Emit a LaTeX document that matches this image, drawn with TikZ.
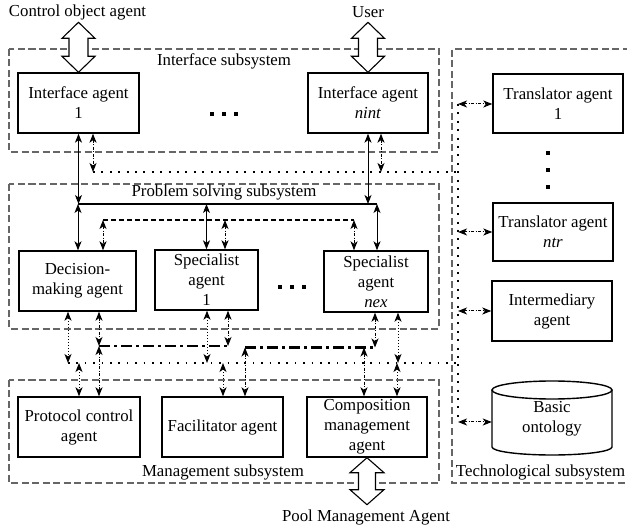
\documentclass[tikz,border=0pt]{standalone}
\usepackage{fontspec}
\setmainfont{Liberation Serif}
\usetikzlibrary{arrows.meta,calc}
\newcommand\fsz{\fontsize{16.8}{20}\selectfont}
\begin{document}
\begin{tikzpicture}[x=1pt,y=-1pt,
 agent/.style={draw,line width=1.4pt,minimum height=60pt,align=center,inner sep=0pt,font=\fsz},
 lbl/.style={inner sep=0pt,font=\fsz},
 subsys/.style={draw=black!60,line width=1.1pt,dash pattern=on 7pt off 3.5pt},
 arr/.style={line width=1pt,{Stealth[length=9pt,width=7pt,inset=2.5pt]}-{Stealth[length=9pt,width=7pt,inset=2.5pt]}},
 solidarr/.style={arr},
 ddarr/.style={arr,dash pattern=on 3pt off 1.5pt on 1pt off 1.5pt},
 dotarr/.style={arr,dash pattern=on 1pt off 2pt},
 solidbus/.style={line width=2.8pt},
 dashbus/.style={line width=2.8pt,dash pattern=on 5pt off 3pt},
 ddbus/.style={line width=2.8pt,dash pattern=on 11pt off 4pt on 3pt off 4pt},
 dotline/.style={line width=2pt,dash pattern=on 2pt off 6.4pt},
 hollow/.style={draw,line width=1.1pt,fill=white,line join=miter},
 sq/.style={fill=black},
]
\useasboundingbox (0,0) rectangle (627,529);

% subsystems
\draw[subsys] (9,49) rectangle (439,152);
\draw[subsys] (9,184) rectangle (439,329);
\draw[subsys] (9,380) rectangle (439,483);
\draw[subsys] (640,49) -- (452,49) -- (452,483) -- (640,483);

\node[lbl] (lint) at (224,61) {Interface subsystem};
\node[lbl] (lps) at (224,192) {Problem solving subsystem};
\node[lbl] (lman) at (223,472) {Management subsystem};
\node[lbl] (ltech) at (540.5,472) {Technological subsystem};
\node[lbl] (lco) at (77.5,12) {Control object agent};
\node[lbl] (luser) at (368,12) {User};
\node[lbl] (lpool) at (366,517) {Pool Management Agent};

% agents
\node[agent,minimum width=121pt] (i1) at (78.5,103) {Interface agent\\1};
\node[agent,minimum width=120pt] (inint) at (368,103) {Interface agent\\\textit{nint}};
\node[agent,minimum width=130pt,minimum height=59pt] (t1) at (558,103.5) {Translator agent\\1};
\node[agent,minimum width=120pt,minimum height=58pt] (tntr) at (553,232) {Translator agent\\\textit{ntr}};
\node[agent,minimum width=120pt] (im) at (552,311) {Intermediary\\agent};
\node[agent,minimum width=117pt] (dm) at (77.5,281) {Decision-\\making agent};
\node[agent,minimum width=103pt] (s1) at (206.5,280) {Specialist\\agent\\1};
\node[agent,minimum width=104pt,minimum height=61pt] (snex) at (376,281.5) {Specialist\\agent\\\textit{nex}};
\node[agent,minimum width=122pt] (pc) at (79,427) {Protocol control\\agent};
\node[agent,minimum width=121pt] (fa) at (222.5,427) {Facilitator agent};
\node[agent,minimum width=120pt] (cm) at (367,427) {Composition\\management\\agent};
\node[lbl,minimum width=120pt,minimum height=74pt,align=center] (bo) at (552,419) {Basic\\ontology};
\draw[line width=1.4pt] (492,390) -- (492,447) arc[start angle=180,end angle=0,x radius=60,y radius=8] -- (612,390);
\draw[line width=1.4pt] (552,390) ellipse[x radius=60,y radius=9];

% ellipses
\fill[sq] (210,112) rectangle ++(4.4,4.4);
\fill[sq] (222,112) rectangle ++(4.4,4.4);
\fill[sq] (234,112) rectangle ++(4.4,4.4);
\fill[sq] (278,285) rectangle ++(4.4,4.4);
\fill[sq] (290,285) rectangle ++(4.4,4.4);
\fill[sq] (302,285) rectangle ++(4.4,4.4);
\fill[sq] (546.3,151.3) rectangle ++(3.6,3.6);
\fill[sq] (546.3,168.3) rectangle ++(3.6,3.6);
\fill[sq] (546.3,185.3) rectangle ++(3.6,3.6);

% hollow double arrows
\draw[hollow] (i1.north) ++(0,-50) -- ++(16.5,16) -- ++(-7,0) -- ++(0,18) -- ++(7,0) -- ++(-16.5,16) -- ++(-16.5,-16) -- ++(7,0) -- ++(0,-18) -- ++(-7,0) -- cycle;
\draw[hollow] (inint.north) ++(0,-50) -- ++(16.5,16) -- ++(-7,0) -- ++(0,18) -- ++(7,0) -- ++(-16.5,16) -- ++(-16.5,-16) -- ++(7,0) -- ++(0,-18) -- ++(-7,0) -- cycle;
\draw[hollow] (cm.south) -- ++(17,15) -- ++(-8.5,0) -- ++(0,17) -- ++(8.5,0) -- ++(-17,15) -- ++(-17,-15) -- ++(8.5,0) -- ++(0,-17) -- ++(-8.5,0) -- cycle;

% coordinates of lines
\coordinate (dl1a) at (93,172);
\coordinate (dl1b) at (458,172);
\coordinate (c381) at (381,172);
\coordinate (dva) at (458,104);
\coordinate (dvb) at (458,422);
\coordinate (dl2a) at (68,363);
\coordinate (dl2b) at (458,363);
\coordinate (c207) at (207,363);
\coordinate (c398) at (398,363);
\coordinate (c79) at (79,363);
\coordinate (c223) at (223,363);
\coordinate (c397) at (397,363);
\coordinate (sba) at (78,204);
\coordinate (sbb) at (377,204);
\coordinate (dba) at (103,220);
\coordinate (db2) at (225,220);
\coordinate (dbb) at (354,220);
\coordinate (dda1) at (99,346);
\coordinate (dda2) at (228,346);
\coordinate (ddb1) at (245,347.5);
\coordinate (ddb2) at (375,347.5);
\coordinate (c364) at (364,347.5);

% buses and dotted lines
\draw[dotline] (dl1a) -- (dl1b);
\draw[dotline] (dva) -- (dvb);
\draw[dotline,line width=1.6pt,dash pattern=on 1.6pt off 6.8pt] (dl2a) -- (dl2b);
\draw[solidbus] (sba) -- (sbb);
\draw[dashbus] (dba) -- (dbb);
\draw[ddbus] (dda1) -- (dda2);
\draw[ddbus] (ddb1) -- (ddb2);

% solid arrows
\draw[solidarr] (i1.south) -- (i1.south |- sba);
\draw[solidarr] (sba) -- (sba |- dm.north);
\draw[solidarr] (s1.north |- sba) -- (s1.north);
\draw[solidarr] (inint.south) -- (inint.south |- sba);
\draw[solidarr] (sbb) -- (sbb |- snex.north);

% dash-dot arrows
\draw[ddarr] (dl1a |- i1.south) -- (dl1a);
\draw[ddarr] (c381 |- inint.south) -- (c381);
\draw[ddarr] (dba) -- (dba |- dm.north);
\draw[ddarr] (db2) -- (db2 |- s1.north);
\draw[ddarr] (dbb) -- (dbb |- snex.north);
\draw[ddarr] (dda1 |- dm.south) -- (dda1);
\draw[ddarr] (dda2 |- s1.south) -- (dda2);
\draw[ddarr] (ddb2 |- snex.south) -- (ddb2);
\draw[ddarr] (dda1) -- (dda1 |- pc.north);
\draw[ddarr] (ddb1) -- (ddb1 |- fa.north);
\draw[ddarr] (c364) -- (c364 |- cm.north);
\draw[ddarr] (dva) -- (t1.west |- dva);
\draw[ddarr] (tntr.west -| dva) -- (tntr.west);
\draw[ddarr] (im.west -| dva) -- (im.west);
\draw[ddarr] (dvb) -- (bo.west |- dvb);

% dotted arrows
\draw[dotarr] (dl2a |- dm.south) -- (dl2a);
\draw[dotarr] (c207 |- s1.south) -- (c207);
\draw[dotarr] (c398 |- snex.south) -- (c398);
\draw[dotarr] (c79) -- (c79 |- pc.north);
\draw[dotarr] (c223) -- (c223 |- fa.north);
\draw[dotarr] (c397) -- (c397 |- cm.north);
\end{tikzpicture}
\end{document}
